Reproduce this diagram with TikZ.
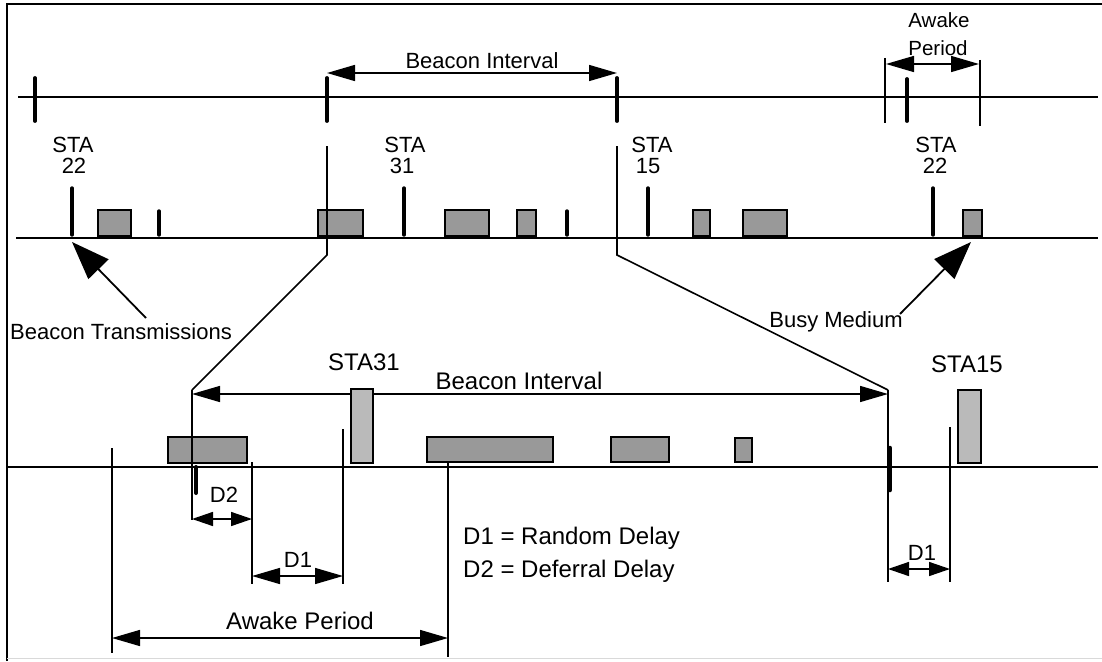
\documentclass[tikz,border=0pt]{standalone}
\usepackage{fontspec}
\setmainfont{Liberation Sans}
\usetikzlibrary{arrows.meta}
\begin{document}
\begin{tikzpicture}[x=1pt,y=-1pt,
  tl/.style={line width=2.1pt},
  thinl/.style={line width=1.6pt},
  tick/.style={line width=3.8pt, line cap=round},
  bar/.style={line width=3.4pt, line cap=round},
  pkt/.style={draw, line width=1.7pt, fill=black!40},
  lpkt/.style={draw, line width=1.7pt, fill=black!27},
  dim/.style={line width=1.5pt, {Triangle[length=28pt,width=16pt]}-{Triangle[length=28pt,width=16pt]}},
  sdim/.style={line width=1.5pt, {Triangle[length=21pt,width=14pt]}-{Triangle[length=21pt,width=14pt]}},
  call/.style={line width=1.8pt, -{Triangle[length=38pt,width=28pt]}},
  lbl/.style={font=\fontsize{22}{26}\selectfont, inner sep=0pt, anchor=base},
  slbl/.style={font=\fontsize{20.5}{24}\selectfont, inner sep=0pt, anchor=base},
  blbl/.style={font=\fontsize{24}{28}\selectfont, inner sep=0pt, anchor=base}
]
\useasboundingbox (0,0) rectangle (1102,661);
% frame
\draw[line width=1.6pt] (7,661) -- (7,4) -- (1102,4);
\draw[line width=1pt, black!15] (7,658) -- (1102,658);

% ---------- top timeline (beacons)
\coordinate (t0) at (18,97); \coordinate (t1) at (1098,97);
\draw[tl] (t0) -- (t1);
\foreach \x in {35,327,617} \draw[tick] (\x,78) -- (\x,121);
\draw[tick] (907,79) -- (907,121);
\coordinate (bi1) at (327,73); \coordinate (bi2) at (617,73);
\draw[dim] (bi1) -- (bi2);
\node[lbl] (bilabel) at (482,68) {Beacon Interval};
% awake period top
\draw[thinl] (885,58) -- (885,123);
\draw[thinl] (980,60) -- (980,126);
\coordinate (ap1) at (886,64); \coordinate (ap2) at (979,64);
\draw[dim] (ap1) -- (ap2);
\node[slbl] (aw) at (939,28) {Awake};
\node[slbl] (pe) at (938,56) {Period};

% ---------- STA labels
\node[lbl] (s22a) at (73,152) {STA};
\node[lbl] (n22a) at (74,173) {22};
\node[lbl] (s31) at (405,152) {STA};
\node[lbl] (n31) at (402,173) {31};
\node[lbl] (s15) at (652,152) {STA};
\node[lbl] (n15) at (648,173) {15};
\node[lbl] (s22b) at (936,152) {STA};
\node[lbl] (n22b) at (935,173) {22};

% ---------- medium timeline
\draw[tl] (16,238) -- (1098,238);
\foreach \x in {72,404,648,933} \draw[bar] (\x,188) -- (\x,235);
\foreach \x in {159,567} \draw[bar] (\x,211) -- (\x,235);
\foreach \a/\b in {98/131,318/363,445/489,517/536,693/710,743/787,963/982}
  \draw[pkt] (\a,210) rectangle (\b,236);

% zoom lines
\coordinate (z1a) at (327,146); \coordinate (z1b) at (327,255); \coordinate (z1c) at (192,390);
\coordinate (z2a) at (617,146); \coordinate (z2b) at (617,255); \coordinate (z2c) at (888,390);
\draw[thinl] (z1a) -- (z1b) -- (z1c);
\draw[thinl] (z2a) -- (z2b) -- (z2c);

% callouts
\node[lbl] (btx) at (121,339) {Beacon Transmissions};
\coordinate (btf) at (146,318); \coordinate (btt) at (72,242);
\draw[call] (btf) -- (btt);
\node[lbl] (bmx) at (836,327) {Busy Medium};
\coordinate (bmf) at (900,314); \coordinate (bmt) at (971,242);
\draw[call] (bmf) -- (bmt);

% ---------- lower (zoomed) timeline
\node[blbl] (sta31) at (364,370) {STA31};
\node[blbl] (sta15) at (967,372) {STA15};
\node[blbl] (lbil) at (519,389) {Beacon Interval};
\coordinate (lb1) at (192,394); \coordinate (lb2) at (888,394);
\draw[dim] (lb1) -- (lb2);

\draw[tl] (8,467) -- (1098,467);
\draw[pkt] (168,437) rectangle (247,463);
\draw[lpkt] (351,389) rectangle (373,463);
\draw[pkt] (427,437) rectangle (553,462);
\draw[pkt] (611,437) rectangle (669,462);
\draw[pkt] (735,438) rectangle (752,462);
\draw[lpkt] (958,390) rectangle (981,463);

% boundary lines
\coordinate (v1) at (192,520);
\coordinate (v2) at (888,582);
\draw[thinl] (z1c) -- (v1);
\draw[thinl] (z2c) -- (v2);
\draw[bar, line width=4pt] (196,467) -- (196,493);
\draw[bar, line width=4.5pt] (890,448) -- (890,490);
\draw[thinl] (112,448) -- (112,653);
\draw[thinl] (252,462) -- (252,584);
\draw[thinl] (343,429) -- (343,584);
\draw[thinl] (448,462) -- (448,657);
\draw[thinl] (950,427) -- (950,582);

% dimension arrows
\coordinate (d2a) at (192,519); \coordinate (d2b) at (252,519);
\draw[sdim] (d2a) -- (d2b);
\node[lbl] (d2l) at (224,502) {D2};
\coordinate (d1a) at (252,576); \coordinate (d1b) at (343,576);
\draw[dim] (d1a) -- (d1b);
\node[lbl] (d1l) at (298,567) {D1};
\coordinate (d3a) at (888,569); \coordinate (d3b) at (950,569);
\draw[sdim] (d3a) -- (d3b);
\node[lbl] (d3l) at (922,560) {D1};
\coordinate (awa) at (112,638); \coordinate (awb) at (448,638);
\draw[dim] (awa) -- (awb);
\node[blbl] (awl) at (300,629) {Awake Period};

% legend
\node[blbl, anchor=base west] (leg1) at (463,544) {D1 = Random Delay};
\node[blbl, anchor=base west] (leg2) at (463,577) {D2 = Deferral Delay};
\end{tikzpicture}
\end{document}
